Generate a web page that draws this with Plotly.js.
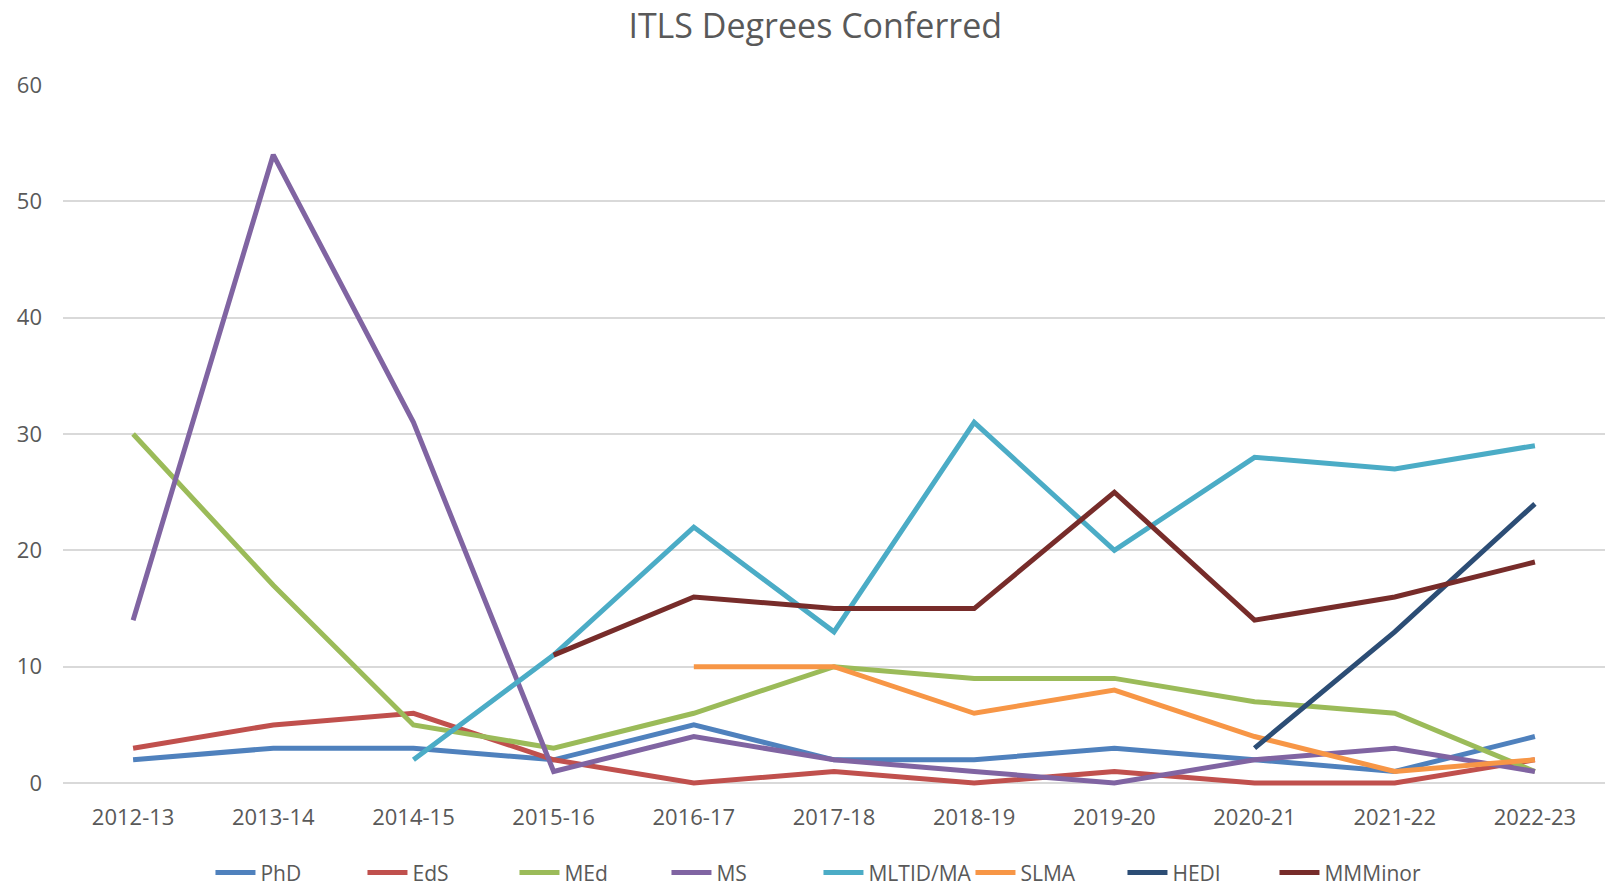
<!DOCTYPE html>
<html>
<head>
<meta charset="utf-8">
<script src="https://cdn.plot.ly/plotly-3.0.1.min.js"></script>
<style>html,body{margin:0;padding:0;background:#fff;}#chart{width:1608px;height:888px;}</style>
</head>
<body>
<div id="chart"></div>
<script>
const years = ["2012-13","2013-14","2014-15","2015-16","2016-17","2017-18","2018-19","2019-20","2020-21","2021-22","2022-23"];
const phd    = [2, 3, 3, 2, 5, 2, 2, 3, 2, 1, 4];
const eds    = [3, 5, 6, 2, 0, 1, 0, 1, 0, 0, 2];
const med    = [30, 17, 5, 3, 6, 10, 9, 9, 7, 6, 1];
const ms     = [14, 54, 31, 1, 4, 2, 1, 0, 2, 3, 1];
const mltid  = [null, null, 2, 11, 22, 13, 31, 20, 28, 27, 29];
const slma   = [null, null, null, null, 10, 10, 6, 8, 4, 1, 2];
const hedi   = [null, null, null, null, null, null, null, null, 3, 13, 24];
const mmminor= [null, null, null, 11, 16, 15, 15, 25, 14, 16, 19];

const seriesNames  = ["PhD","EdS","MEd","MS","MLTID/MA","SLMA","HEDI","MMMinor"];
const seriesValues = [phd, eds, med, ms, mltid, slma, hedi, mmminor];
const seriesColors = ["#4F81BD","#C0504D","#9BBB59","#8064A2","#4BACC6","#F79646","#2C4D75","#772C2A"];

const traces = seriesNames.map((n, i) => ({
  type: "scatter",
  mode: "lines",
  name: n,
  x: years,
  y: seriesValues[i],
  line: {color: seriesColors[i], width: 5},
  connectgaps: false
}));

const fontFam = "'Open Sans', 'Noto Sans', sans-serif";
const layout = {
  width: 1608, height: 888,
  paper_bgcolor: "#ffffff", plot_bgcolor: "#ffffff",
  margin: {l: 63, r: 3, t: 84.7, b: 102.4},
  font: {family: fontFam, color: "#595959", size: 22},
  title: {text: "ITLS Degrees Conferred", font: {size: 34, color: "#595959", family: fontFam},
          xref: "container", x: 0.507, xanchor: "center", yref: "container", y: 0.971, yanchor: "middle"},
  xaxis: {type: "category", range: [-0.5, 10.5], showgrid: false, zeroline: false, showline: false,
          ticks: "", ticklabelstandoff: 16, tickfont: {size: 22, color: "#595959"}},
  yaxis: {range: [-0.25, 60], dtick: 10, tick0: 0, showgrid: true, gridcolor: "#D9D9D9", gridwidth: 2,
          zeroline: false, showline: false, ticks: "", ticklabelstandoff: 20, tickfont: {size: 22, color: "#595959"}},
  showlegend: true,
  legend: {orientation: "h", xref: "container", x: 0.509, xanchor: "center", yref: "container", y: 0.017, yanchor: "middle",
           font: {size: 21, color: "#595959"}, itemwidth: 40, tracegroupgap: 0,
           entrywidth: 97, entrywidthmode: "pixels"}
};

Plotly.newPlot("chart", traces, layout, {displayModeBar: false, staticPlot: true});
</script>
</body>
</html>
